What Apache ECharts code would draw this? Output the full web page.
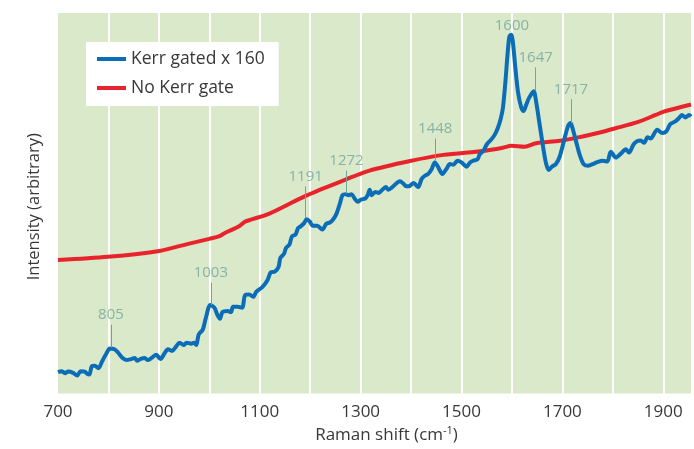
<!DOCTYPE html>
<html>
<head>
<meta charset="utf-8">
<script src="https://cdn.jsdelivr.net/npm/echarts@6/dist/echarts.min.js"></script>
<style>
  html, body { margin: 0; padding: 0; background: #fff; }
  #chart { width: 694px; height: 449px; }
</style>
</head>
<body>
<div id="chart"></div>
<script>
// Kerr gated spectrum (x 160), Raman shift in cm^-1, intensity arbitrary
const kerrX = [700, 707, 714, 720, 730, 738, 745, 753, 758, 762, 767, 773, 780, 788, 796, 803, 812, 819, 828, 836,
  845, 852, 857, 863, 872, 878, 885, 895, 903, 911, 918, 926, 934, 941, 949, 955, 964, 970, 974, 979,
  987, 993, 1002, 1010, 1016, 1021, 1026, 1036, 1043, 1047, 1056, 1065, 1071, 1079, 1087, 1093, 1105, 1115, 1122, 1130,
  1137, 1141, 1148, 1152, 1159, 1164, 1171, 1176, 1181, 1188, 1193, 1199, 1205, 1214, 1224, 1232, 1239, 1245, 1252, 1259,
  1264, 1271, 1276, 1282, 1288, 1294, 1301, 1309, 1314, 1318, 1322, 1329, 1336, 1342, 1350, 1355, 1363, 1370, 1378, 1385,
  1391, 1395, 1405, 1414, 1421, 1428, 1434, 1441, 1447, 1454, 1462, 1470, 1477, 1484, 1492, 1500, 1510, 1517, 1523, 1532,
  1536, 1543, 1551, 1559, 1566, 1572, 1578, 1582, 1587, 1591, 1595, 1599, 1602, 1607, 1612, 1618, 1623, 1628, 1634, 1643,
  1648, 1653, 1658, 1663, 1668, 1673, 1679, 1687, 1694, 1703, 1711, 1716, 1720, 1727, 1734, 1742, 1750, 1760, 1768, 1780,
  1789, 1796, 1806, 1816, 1826, 1832, 1841, 1849, 1855, 1862, 1869, 1875, 1888, 1898, 1906, 1914, 1924, 1931, 1937, 1944,
  1951, 1955];
const kerrY = [21.7, 22.7, 20.7, 22.3, 21, 18.3, 22.7, 22.3, 20, 19.3, 27.7, 28.3, 25.7, 33.3, 40.7, 45.7, 45, 41.7, 36, 34,
  35, 36, 33.3, 35, 36, 34, 36, 39.3, 35, 40.7, 45, 43.3, 47.7, 51.7, 49.3, 51.7, 50.7, 51.7, 49.3, 60,
  65, 76.7, 90, 87.3, 80, 76, 82.7, 84, 82.7, 88.3, 88.3, 87.3, 100, 100.7, 98.3, 103.3, 108.3, 115, 123.3, 124,
  128.3, 138, 142, 148, 151.7, 160, 161.7, 168.3, 170, 173.3, 177.3, 175, 170.7, 170.7, 166.7, 172.7, 174, 176.7, 182.7, 193.3,
  201.7, 202.7, 201.7, 202.7, 198.3, 195, 197.3, 198.3, 201.7, 207.3, 201.7, 205, 204, 206.7, 210, 207.3, 210, 213.3, 216, 213.3,
  210.7, 210.7, 214, 210, 218.3, 221.7, 223.3, 228.3, 235, 230, 223.3, 228.3, 233.3, 232.7, 236.7, 235, 230.7, 235, 236.7, 238.3,
  243.3, 246.7, 254, 258.3, 263.3, 270, 280, 290, 316.7, 343.3, 363.3, 365, 356.7, 330, 306.7, 291.7, 287.3, 293.3, 300.7, 307.3,
  296.7, 280, 263.3, 246.7, 233.3, 227.3, 230.7, 233.3, 240, 256.7, 271.7, 275, 270, 256.7, 243.3, 233.3, 231.7, 233.3, 235, 236.7,
  236, 246, 240, 244, 248.3, 245, 253.3, 256.7, 257.3, 255, 260.7, 259.3, 268.3, 265, 266.7, 274, 276.7, 280, 283.3, 280.7,
  283.3, 281.7];

// no Kerr gate spectrum
const noGateX = [700, 799, 901, 954, 1000, 1020, 1030, 1059, 1072, 1118, 1191, 1270, 1316, 1398, 1464, 1543, 1582, 1599, 1625, 1648,
  1695, 1727, 1770, 1807, 1849, 1885, 1901, 1955];
const noGateY = [135.7, 139, 145, 151.7, 157.3, 160, 163, 170, 175, 182.7, 201, 217.5, 226.5, 236.5, 242.7, 246.7, 250, 252, 251, 254.5,
  257, 260, 265, 270, 276, 283.3, 286.7, 294];

// peak annotations
const peakNames = ['805', '1003', '1191', '1272', '1448', '1600', '1647', '1717'];
const peakX = [805, 1003, 1191, 1272, 1448, 1600, 1647, 1717];
const peakTop = [70, 112.7, 210.7, 226.7, 259.3, 364, 331.7, 299.3];
const peakBottom = [46.7, 90, 178.3, 203.3, 236.7, null, 308.3, 275];

const xTickLabels = ['700', '900', '1100', '1300', '1500', '1700', '1900'];

const FONT = '"Open Sans", "Noto Sans", sans-serif';
const annotColor = '#72a69a';
const textColor = '#383838';

const chart = echarts.init(document.getElementById('chart'));

const kerrData = kerrX.map((x, i) => [x, kerrY[i]]);
const noGateData = noGateX.map((x, i) => [x, noGateY[i]]);
const peakData = peakX.map((x, i) => ({ value: [x, peakTop[i]], name: peakNames[i] }));
const peakLines = [];
peakX.forEach((x, i) => {
  if (peakBottom[i] == null) return;
  peakLines.push([{ coord: [x, peakBottom[i]] }, { coord: [x, peakTop[i]] }]);
});

chart.setOption({
  animation: false,
  backgroundColor: '#ffffff',
  textStyle: { fontFamily: FONT },
  grid: {
    left: 58,
    right: 0,
    top: 13,
    bottom: 49,
    show: true,
    backgroundColor: '#d9e9ca',
    borderWidth: 0
  },
  legend: {
    data: ['Kerr gated x 160', 'No Kerr gate'],
    orient: 'vertical',
    left: 86,
    top: 42,
    backgroundColor: '#ffffff',
    padding: [7, 14, 8, 11],
    itemGap: 9,
    itemWidth: 29,
    itemHeight: 4,
    icon: 'rect',
    textStyle: { fontSize: 17.5, color: textColor, fontFamily: FONT, lineHeight: 20 }
  },
  xAxis: {
    type: 'value',
    min: 700,
    max: 1955,
    interval: 100,
    axisLine: { show: false },
    axisTick: { show: false },
    splitLine: { show: true, showMinLine: false, showMaxLine: false, lineStyle: { color: '#ffffff', width: 2 } },
    axisLabel: {
      margin: 10,
      fontSize: 17,
      color: textColor,
      fontFamily: FONT,
      formatter: v => (xTickLabels.indexOf(String(v)) >= 0 ? String(v) : '')
    },
    name: '{a|Raman shift (cm}{b|-1}{a|)}',
    nameLocation: 'middle',
    nameGap: 32,
    nameTextStyle: {
      padding: [0, 0, 0, 24],
      rich: {
        a: { fontSize: 17, color: textColor, fontFamily: FONT, lineHeight: 20 },
        b: { fontSize: 11, color: textColor, fontFamily: FONT, verticalAlign: 'top', lineHeight: 20 }
      }
    }
  },
  yAxis: {
    type: 'value',
    min: 0,
    max: 387,
    axisLine: { show: false },
    axisTick: { show: false },
    axisLabel: { show: false },
    splitLine: { show: false },
    name: 'Intensity (arbitrary)',
    nameLocation: 'middle',
    nameGap: 15,
    nameTextStyle: { fontSize: 16.5, color: textColor, fontFamily: FONT, padding: [0, 7, 0, 0] }
  },
  series: [
    {
      name: 'No Kerr gate',
      type: 'line',
      data: noGateData,
      smooth: 0.3,
      showSymbol: false,
      lineStyle: { color: '#e8232b', width: 4 },
      itemStyle: { color: '#e8232b' },
      z: 2
    },
    {
      name: 'Kerr gated x 160',
      type: 'line',
      data: kerrData,
      smooth: 0.3,
      showSymbol: false,
      lineStyle: { color: '#0b6db7', width: 4 },
      itemStyle: { color: '#0b6db7' },
      z: 3
    },
    {
      name: 'peaks',
      type: 'scatter',
      data: peakData,
      symbolSize: 0,
      silent: true,
      label: {
        show: true,
        position: 'top',
        distance: 2,
        formatter: p => p.name,
        fontSize: 15,
        color: annotColor,
        fontFamily: FONT
      },
      markLine: {
        silent: true,
        symbol: 'none',
        label: { show: false },
        lineStyle: { color: annotColor, width: 1, type: 'solid' },
        data: peakLines
      },
      z: 4
    }
  ]
});
</script>
</body>
</html>
